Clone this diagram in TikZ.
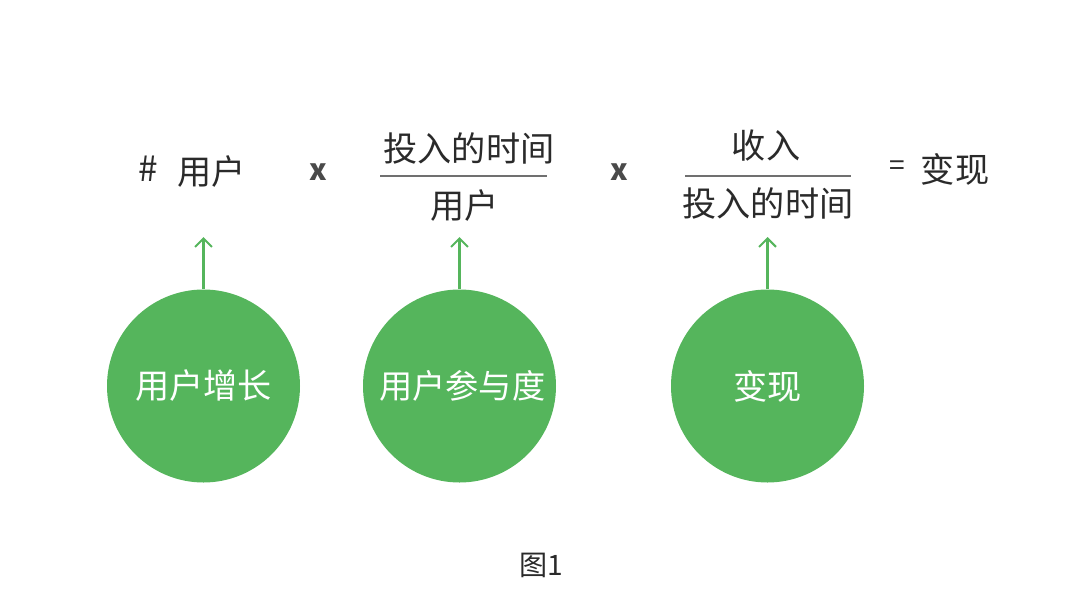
\documentclass[tikz,border=0pt]{standalone}
\usepackage{fontspec}
\usepackage{tikz}
\usetikzlibrary{arrows.meta}
\setmainfont{Noto Sans CJK SC}
\definecolor{leafgreen}{HTML}{55B55C}
\definecolor{inkgray}{HTML}{2A2A2A}
\definecolor{rulegray}{HTML}{707070}
\tikzset{
	term/.style={text=inkgray,font=\fontsize{24.3}{28}\selectfont,inner sep=0pt},
	sign/.style={text=inkgray,font=\fontsize{20}{24}\selectfont,inner sep=0pt},
	times/.style={text=inkgray!85,font=\fontsize{21}{24}\selectfont\bfseries,inner sep=0pt},
	goal/.style={circle,fill=leafgreen,minimum size=193*0.025cm,inner sep=0pt,text=white,font=\fontsize{24.3}{28}\selectfont},
	lift/.style={draw=leafgreen,line width=1.7pt,-{Straight Barb[length=6pt,width=12pt,line width=1.5pt]}},
	bar/.style={draw=rulegray,line width=1pt}
}
\begin{document}
\begin{tikzpicture}[x=0.025cm,y=-0.025cm]
	\useasboundingbox (0,0) rectangle (1080,600);
	
	% top formula
	\node[sign,font=\fontsize{25}{28}\selectfont] (hash) at (148.500,169) {\#};
	\node[term] (users) at (211.500,172) {用户};
	\node[times] (x1) at (318,172) {x};
	\node[term] (timea) at (469,148) {投入的时间};
	\node[term] (usersb) at (464.500,206) {用户};
	\node[times] (x2) at (619,172) {x};
	\node[term] (income) at (766,146) {收入};
	\node[term] (timeb) at (768,203) {投入的时间};
	\node[sign] (equal) at (897,168) {=};
	\node[term] (money) at (955,169) {变现};
	
	% fraction bars
	\coordinate (bara) at (380,176);
	\coordinate (barb) at (547,176);
	\coordinate (barc) at (685,176);
	\coordinate (bard) at (851,176);
	\draw[bar] (bara) -- (barb);
	\draw[bar] (barc) -- (bard);
	
	% circles
	\node[goal] (growth) at (203.500,386) {用户增长};
	\node[goal,font=\fontsize{23.6}{28}\selectfont] (engage) at (459.500,386) {\hspace{4pt}用户参与度};
	\node[goal] (revenue) at (767.500,386) {变现};
	
	\coordinate (tipa) at (203.500,237);
	\coordinate (tipb) at (459.500,237);
	\coordinate (tipc) at (767.500,237);
	\draw[lift] (growth.north) -- (tipa);
	\draw[lift] (engage.north) -- (tipb);
	\draw[lift] (revenue.north) -- (tipc);
	
	\node[sign,font=\fontsize{20}{22}\selectfont] (caption) at (541,565) {图1};
\end{tikzpicture}
\end{document}
